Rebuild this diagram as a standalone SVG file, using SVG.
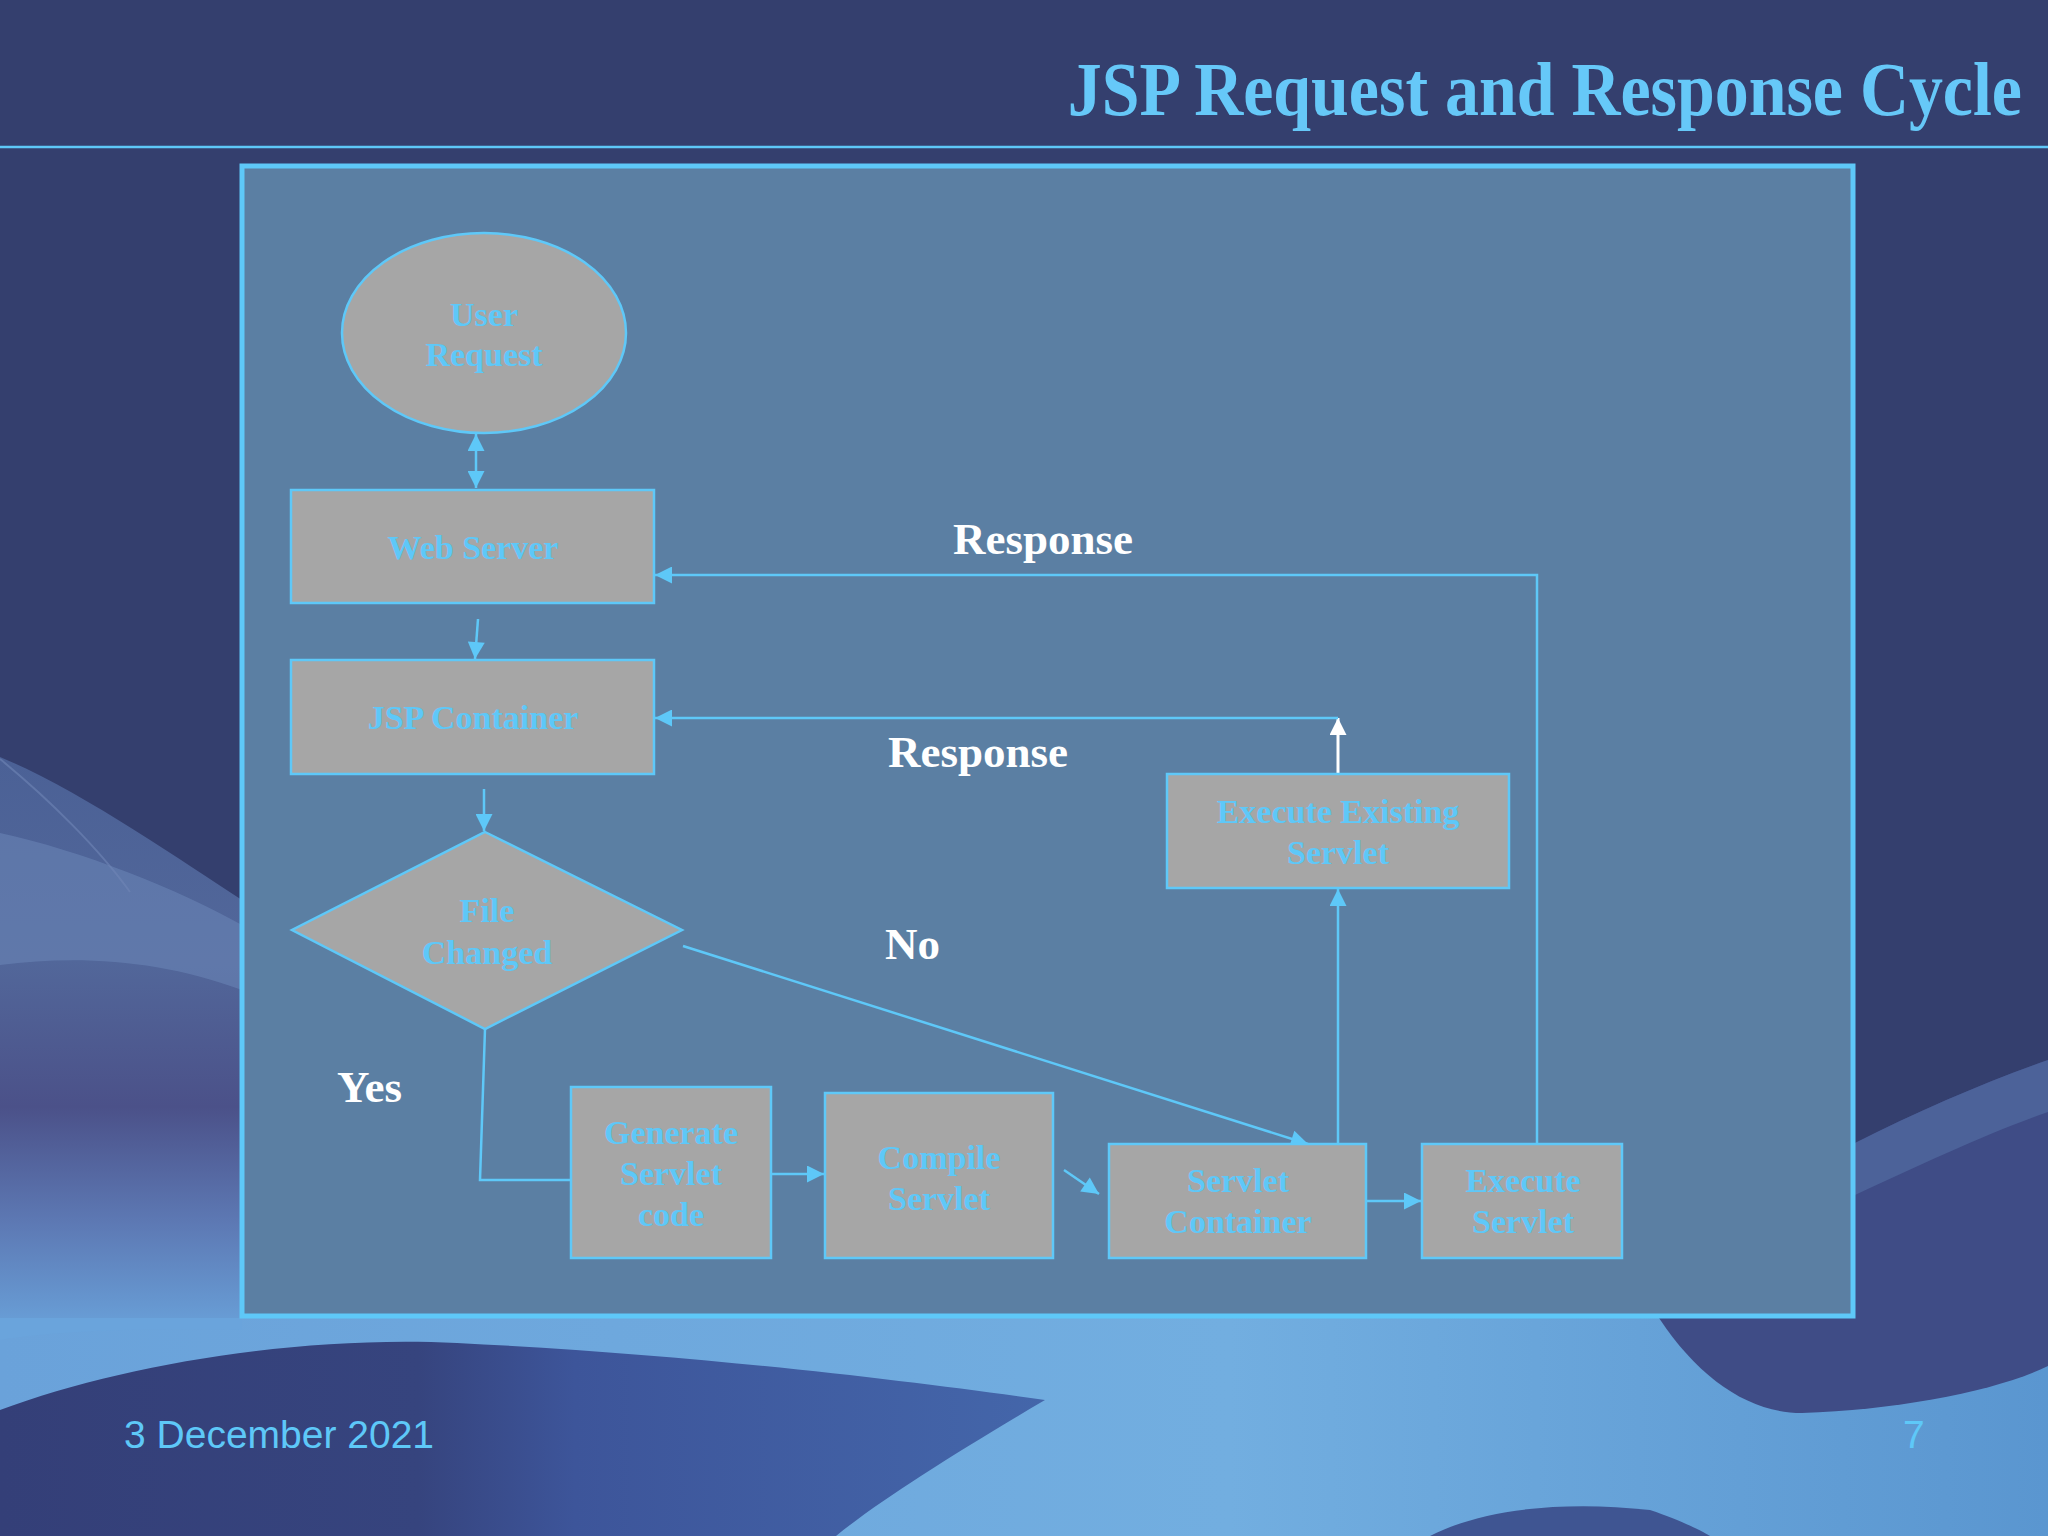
<svg xmlns="http://www.w3.org/2000/svg" width="2048" height="1536" viewBox="0 0 2048 1536">
<defs>
<style>
.node{fill:#a6a6a6;stroke:#5ec8f8;stroke-width:2.5}
.nt{font-family:"Liberation Serif","Times New Roman",serif;font-weight:bold;font-size:34px;fill:#5ec8f8;text-anchor:middle}
.lbl{font-family:"Liberation Serif","Times New Roman",serif;font-weight:bold;font-size:45px;fill:#ffffff}
.con{fill:none;stroke:#5ec8f8;stroke-width:2.5}
.foot{font-family:"Liberation Sans",Arial,sans-serif;font-size:39px;fill:#5ec8f8}
</style>
<marker id="ah" viewBox="0 0 10 10" refX="10" refY="5" markerUnits="userSpaceOnUse" markerWidth="20" markerHeight="17" orient="auto-start-reverse">
<path d="M0,0 L10,5 L0,10 Z" fill="#5ec8f8"/>
</marker>
<marker id="ahw" viewBox="0 0 10 10" refX="10" refY="5" markerUnits="userSpaceOnUse" markerWidth="20" markerHeight="17" orient="auto">
<path d="M0,0 L10,5 L0,10 Z" fill="#ffffff"/>
</marker>
<linearGradient id="leftg" x1="0" y1="757" x2="0" y2="1340" gradientUnits="userSpaceOnUse">
<stop offset="0" stop-color="#4b6196"/>
<stop offset="0.35" stop-color="#52679a"/>
<stop offset="0.6" stop-color="#4b5189"/>
<stop offset="0.8" stop-color="#5d79b4"/>
<stop offset="1" stop-color="#6aa4dc"/>
</linearGradient>
<linearGradient id="botg" x1="0" y1="0" x2="1" y2="0">
<stop offset="0" stop-color="#6aa2da"/>
<stop offset="0.6" stop-color="#72aee0"/>
<stop offset="1" stop-color="#5a96d0"/>
</linearGradient>
<linearGradient id="hillg" x1="0" y1="0" x2="1" y2="0">
<stop offset="0" stop-color="#343f78"/>
<stop offset="0.4" stop-color="#36447e"/>
<stop offset="0.55" stop-color="#3d559a"/>
<stop offset="1" stop-color="#4466aa"/>
</linearGradient>
</defs>
<g id="background">
<rect x="0" y="0" width="2048" height="1536" fill="#343f6e"/>
<path d="M0,757 C80,790 180,860 242,900 L242,1330 L0,1330 Z" fill="url(#leftg)"/>
<path d="M0,833 C80,850 180,890 242,925 L242,990 C160,960 80,955 0,965 Z" fill="#6c86b8" opacity="0.55"/>
<path d="M0,759 C50,800 100,850 130,892" fill="none" stroke="#6f86b6" stroke-width="2" opacity="0.6"/>
<path d="M1855,1143 C1920,1110 1990,1080 2048,1060 L2048,1380 L1855,1380 Z" fill="#3f4c86"/>
<path d="M1855,1143 C1920,1110 1990,1080 2048,1060 L2048,1112 C1990,1132 1920,1165 1855,1195 Z" fill="#4c6299"/>
<rect x="0" y="1318" width="2048" height="218" fill="url(#botg)"/>
<path d="M0,1318 L242,1318 L242,1330 C150,1328 60,1330 0,1340 Z" fill="#6aa4dc"/>
<path d="M1659,1318 C1700,1380 1750,1413 1802,1413 C1900,1410 2000,1390 2048,1366 L2048,1318 Z" fill="#3f4c86"/>
<path d="M0,1410 C120,1365 300,1335 457,1343 C700,1355 900,1380 1045,1400 C960,1450 880,1500 836,1536 L0,1536 Z" fill="url(#hillg)"/>
<path d="M1430,1536 C1480,1510 1560,1500 1650,1510 C1680,1520 1700,1530 1710,1536 Z" fill="#3f5592"/>
</g>
<g id="header">
<text transform="translate(2022,115) scale(0.8933,1)" x="0" y="0" text-anchor="end" font-family="'Liberation Serif','Times New Roman',serif" font-weight="bold" font-size="76" fill="#66c8f8">JSP Request and Response Cycle</text>
<line x1="0" y1="147" x2="2048" y2="147" stroke="#5ec8f8" stroke-width="2.5"/>
</g>
<g id="frame">
<rect x="242" y="166" width="1611" height="1150" fill="#5b7fa3" stroke="#5ec8f8" stroke-width="5"/>
</g>
<g id="connectors">
<line class="con" x1="476" y1="434" x2="476" y2="488" marker-start="url(#ah)" marker-end="url(#ah)"/>
<line class="con" x1="478" y1="619" x2="475" y2="659" marker-end="url(#ah)"/>
<line class="con" x1="484" y1="789" x2="484" y2="831" marker-end="url(#ah)"/>
<polyline class="con" points="485,1029 480,1180 571,1180"/>
<line class="con" x1="771" y1="1174" x2="824" y2="1174" marker-end="url(#ah)"/>
<line class="con" x1="1064" y1="1170" x2="1099" y2="1194" marker-end="url(#ah)"/>
<line class="con" x1="683" y1="946" x2="1308" y2="1144" marker-end="url(#ah)"/>
<line class="con" x1="1366" y1="1201" x2="1421" y2="1201" marker-end="url(#ah)"/>
<line class="con" x1="1338" y1="1144" x2="1338" y2="889" marker-end="url(#ah)"/>
<line x1="1338" y1="774" x2="1338" y2="718" stroke="#ffffff" stroke-width="3" marker-end="url(#ahw)"/>
<polyline class="con" points="1338,718 655,718" marker-end="url(#ah)"/>
<polyline class="con" points="1537,1144 1537,575 655,575" marker-end="url(#ah)"/>
</g>
<g id="user-request">
<ellipse class="node" cx="484" cy="333" rx="142" ry="100"/>
<text class="nt" x="484" y="326">User</text>
<text class="nt" x="484" y="366">Request</text>
</g>
<g id="web-server">
<rect class="node" x="291" y="490" width="363" height="113"/>
<text class="nt" x="473" y="559">Web Server</text>
</g>
<g id="jsp-container">
<rect class="node" x="291" y="660" width="363" height="114"/>
<text class="nt" x="473" y="729">JSP Container</text>
</g>
<g id="file-changed">
<polygon class="node" points="485,832 682,930 485,1029 292,930"/>
<text class="nt" x="487" y="922">File</text>
<text class="nt" x="487" y="964">Changed</text>
</g>
<g id="generate-servlet">
<rect class="node" x="571" y="1087" width="200" height="171"/>
<text class="nt" x="671" y="1144">Generate</text>
<text class="nt" x="671" y="1185">Servlet</text>
<text class="nt" x="671" y="1226">code</text>
</g>
<g id="compile-servlet">
<rect class="node" x="825" y="1093" width="228" height="165"/>
<text class="nt" x="939" y="1169">Compile</text>
<text class="nt" x="939" y="1210">Servlet</text>
</g>
<g id="servlet-container">
<rect class="node" x="1109" y="1144" width="257" height="114"/>
<text class="nt" x="1238" y="1192">Servlet</text>
<text class="nt" x="1238" y="1233">Container</text>
</g>
<g id="execute-servlet">
<rect class="node" x="1422" y="1144" width="200" height="114"/>
<text class="nt" x="1523" y="1192">Execute</text>
<text class="nt" x="1523" y="1233">Servlet</text>
</g>
<g id="execute-existing">
<rect class="node" x="1167" y="774" width="342" height="114"/>
<text class="nt" x="1338" y="823">Execute Existing</text>
<text class="nt" x="1338" y="864">Servlet</text>
</g>
<g id="labels">
<text class="lbl" x="953" y="554">Response</text>
<text class="lbl" x="888" y="767">Response</text>
<text class="lbl" x="885" y="959">No</text>
<text class="lbl" x="337" y="1102">Yes</text>
</g>
<g id="footer">
<text class="foot" x="124" y="1448">3 December 2021</text>
<text class="foot" x="1903" y="1448">7</text>
</g>
</svg>
